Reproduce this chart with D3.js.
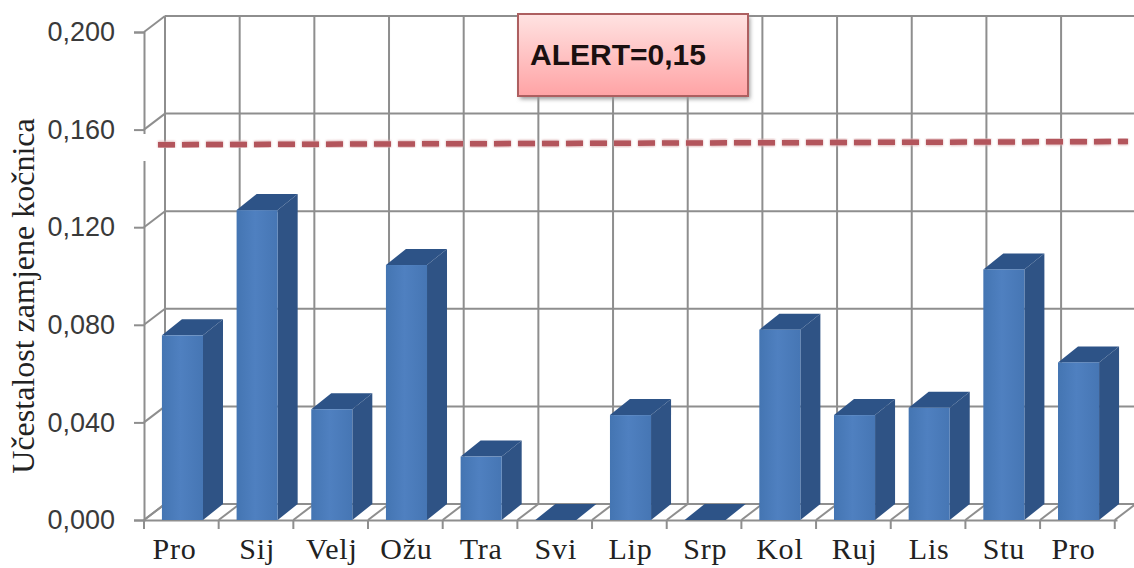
<!DOCTYPE html>
<html>
<head>
<meta charset="utf-8">
<script src="https://cdn.jsdelivr.net/npm/d3@7"></script>
<style>
    html, body { margin: 0; padding: 0; background: #fff; }
    svg { display: block; }
    .yAxis text { font-family: "Liberation Sans", sans-serif; font-size: 27px; fill: #3a3a3a; }
    .xAxis text { font-family: "Liberation Serif", serif; font-size: 30px; letter-spacing: 0.8px; fill: #222; }
    .yTitle { font-family: "Liberation Serif", serif; font-size: 32px; fill: #222; }
    .alertText { font-family: "Liberation Sans", sans-serif; font-size: 30px; font-weight: bold; fill: #1a1010; }
</style>
</head>
<body>
<svg id="chart" width="1134" height="568"></svg>
<script>
// values
const months = ["Pro", "Sij", "Velj", "Ožu", "Tra", "Svi", "Lip", "Srp", "Kol", "Ruj", "Lis", "Stu", "Pro"];
const values = [0.0757, 0.127, 0.0454, 0.1045, 0.026, 0, 0.043, 0, 0.078, 0.043, 0.046, 0.1027, 0.0646];
const yTicks = [0, 0.04, 0.08, 0.12, 0.16, 0.2];
const alertLine = [0.1538, 0.1551]; // hand drawn in the original, it drifts up a little

const svg = d3.select("#chart");
const gridColor = "#8e8e8e";

// depth of the fake 3d box
const depthX = 21;
const depthY = 16;

const yScale = d3.scaleLinear().domain([0, 0.2]).range([520, 32]);
const xScale = d3.scaleBand()
    .domain(d3.range(months.length))
    .range([144, 1117])
    .paddingInner(0.45)
    .paddingOuter(0.24);
const edges = d3.range(months.length + 1).map(i => 144 + i * xScale.step());

const defs = svg.append("defs");

let frontGrad = defs.append("linearGradient").attr("id", "frontGrad");
frontGrad.append("stop").attr("offset", "0%").attr("stop-color", "#4475b2");
frontGrad.append("stop").attr("offset", "45%").attr("stop-color", "#4f80c0");
frontGrad.append("stop").attr("offset", "100%").attr("stop-color", "#4676b4");

let boxGrad = defs.append("linearGradient").attr("id", "boxGrad")
    .attr("x1", 0).attr("x2", 0).attr("y1", 0).attr("y2", 1);
boxGrad.append("stop").attr("offset", "0%").attr("stop-color", "#ffe3e2");
boxGrad.append("stop").attr("offset", "100%").attr("stop-color", "#ffa3a5");

let blur = defs.append("filter").attr("id", "soft")
    .attr("x", "-2%").attr("y", "-100%").attr("width", "104%").attr("height", "300%");
blur.append("feGaussianBlur").attr("stdDeviation", 1.2);

let shadow = defs.append("filter").attr("id", "boxShadow")
    .attr("x", "-5%").attr("y", "-5%").attr("width", "110%").attr("height", "115%");
shadow.append("feGaussianBlur").attr("stdDeviation", 2);

// back wall and floor
let grid = svg.append("g").attr("stroke", gridColor).attr("stroke-width", 2).attr("fill", "none");

grid.selectAll(".hLine").data(yTicks).join("line")
    .attr("x1", 144 + depthX).attr("x2", 1134)
    .attr("y1", d => yScale(d) - depthY).attr("y2", d => yScale(d) - depthY);

grid.selectAll(".wallLine").data(yTicks).join("line")
    .attr("x1", 144).attr("x2", 144 + depthX)
    .attr("y1", d => yScale(d)).attr("y2", d => yScale(d) - depthY);

grid.selectAll(".vLine").data(edges).join("line")
    .attr("x1", d => d + depthX).attr("x2", d => d + depthX)
    .attr("y1", yScale(0.2) - depthY).attr("y2", yScale(0) - depthY);

grid.selectAll(".floorLine").data(edges).join("line")
    .attr("x1", d => d).attr("x2", d => d + depthX)
    .attr("y1", yScale(0)).attr("y2", yScale(0) - depthY);

// axes
let yAxis = d3.axisLeft(yScale).tickValues(yTicks).tickSize(10).tickPadding(19)
    .tickFormat(d => d3.format(".3f")(d).replace(".", ","));
let yAxisG = svg.append("g").attr("class", "yAxis").attr("transform", "translate(144,0)").call(yAxis);
yAxisG.selectAll("line").attr("stroke", gridColor).attr("stroke-width", 2);
yAxisG.select(".domain").attr("stroke", gridColor).attr("stroke-width", 2);

let xAxis = d3.axisBottom(xScale).tickSize(0).tickPadding(18).tickFormat(i => months[i]);
let xAxisG = svg.append("g").attr("class", "xAxis").attr("transform", "translate(0,520)").call(xAxis);
xAxisG.select(".domain").attr("stroke", gridColor).attr("stroke-width", 2);
// the two "Pro" labels sit a bit left of their bars in the original
xAxisG.selectAll("text").attr("dx", (d, i) => i == 0 ? -8 : i == 12 ? -5 : 0);

svg.append("g").selectAll("line").data(edges).join("line")
    .attr("x1", d => d).attr("x2", d => d)
    .attr("y1", 520).attr("y2", 529)
    .attr("stroke", gridColor).attr("stroke-width", 2);

// gap in the axis where the alert line was pasted over
svg.append("rect").attr("x", 140).attr("y", 134).attr("width", 10).attr("height", 27).attr("fill", "#fff");

// bars
let bars = svg.append("g").selectAll("g").data(values).join("g");

bars.append("path")
    .attr("fill", "#2f5385")
    .attr("d", (d, i) => {
        let x = xScale(i) + xScale.bandwidth();
        return d3.line()([[x, yScale(d)], [x + depthX - 1, yScale(d) - depthY], [x + depthX - 1, yScale(0) - depthY], [x, yScale(0)]]) + "Z";
    });

bars.append("path")
    .attr("fill", "#2d5387")
    .attr("d", (d, i) => {
        let x = xScale(i), w = xScale.bandwidth();
        return d3.line()([[x, yScale(d)], [x + depthX - 1, yScale(d) - depthY], [x + w + depthX - 1, yScale(d) - depthY], [x + w, yScale(d)]]) + "Z";
    });

bars.append("rect")
    .attr("x", (d, i) => xScale(i))
    .attr("y", d => yScale(d))
    .attr("width", xScale.bandwidth())
    .attr("height", d => yScale(0) - yScale(d))
    .attr("fill", "url(#frontGrad)");

// alert line
let alertX = d3.scaleLinear().domain([0, 1]).range([158, 1128]);
let alertPath = d3.line().x((d, i) => alertX(i)).y(d => yScale(d));

svg.append("path").datum(alertLine)
    .attr("d", alertPath)
    .attr("fill", "none")
    .attr("stroke", "#dcb0b2")
    .attr("stroke-width", 7)
    .attr("stroke-dasharray", "17,7")
    .attr("filter", "url(#soft)");

svg.append("path").datum(alertLine)
    .attr("d", alertPath)
    .attr("fill", "none")
    .attr("stroke", "#b3555c")
    .attr("stroke-width", 5.5)
    .attr("stroke-dasharray", "17,7");

// alert box
svg.append("rect")
    .attr("x", 520).attr("y", 17).attr("width", 230).attr("height", 82)
    .attr("fill", "#999")
    .attr("filter", "url(#boxShadow)");

svg.append("rect")
    .attr("x", 518).attr("y", 14).attr("width", 230).attr("height", 82)
    .attr("fill", "url(#boxGrad)")
    .attr("stroke", "#ad5f60")
    .attr("stroke-width", 2);

svg.append("text").attr("class", "alertText")
    .attr("x", 530).attr("y", 65)
    .text("ALERT=0,15");

// y title
svg.append("text").attr("class", "yTitle")
    .attr("transform", "translate(34,296) rotate(-90)")
    .attr("text-anchor", "middle")
    .text("Učestalost zamjene kočnica");
</script>
</body>
</html>
